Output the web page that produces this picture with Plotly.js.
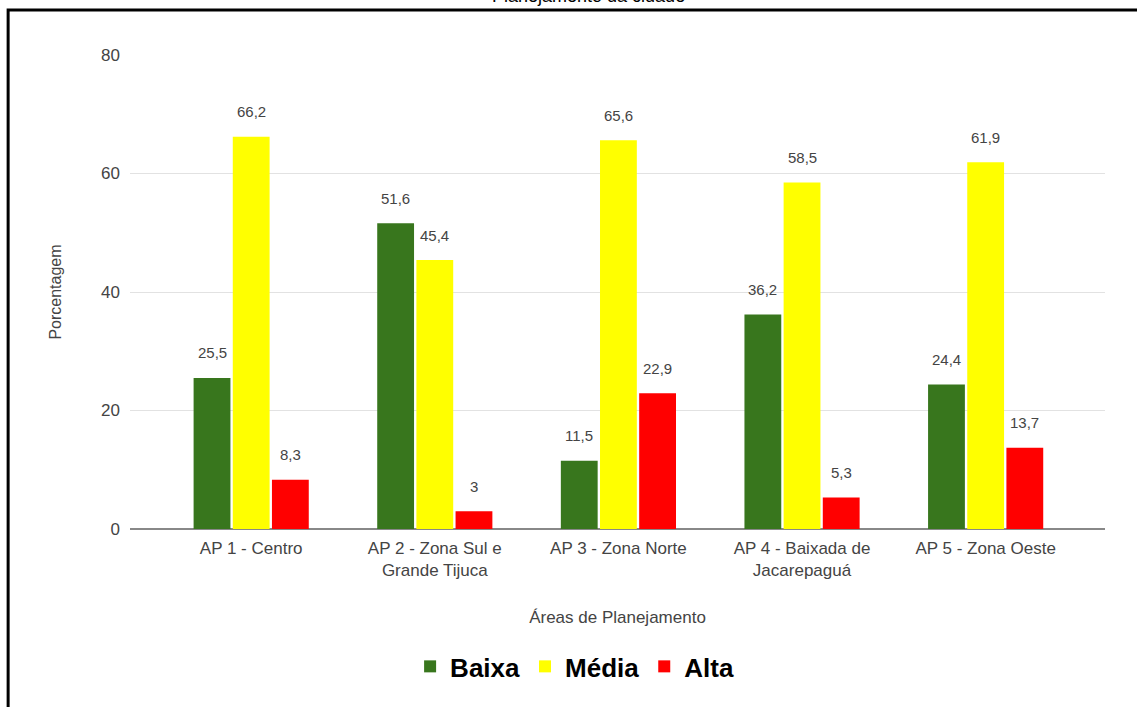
<!DOCTYPE html>
<html>
<head>
<meta charset="utf-8">
<script src="https://cdn.plot.ly/plotly-3.0.1.min.js"></script>
<style>
  html, body { margin: 0; padding: 0; background: #fff; }
  #chart { width: 1137px; height: 707px; }
</style>
</head>
<body>
<div id="chart"></div>
<script>
// Áreas de Planejamento do município e a distribuição por faixa (%)
const categories = [
  "AP 1 - Centro",
  "AP 2 - Zona Sul e<br>Grande Tijuca",
  "AP 3 - Zona Norte",
  "AP 4 - Baixada de<br>Jacarepaguá",
  "AP 5 - Zona Oeste"
];
const baixa = [25.5, 51.6, 11.5, 36.2, 24.4];
const media = [66.2, 45.4, 65.6, 58.5, 61.9];
const alta  = [8.3, 3, 22.9, 5.3, 13.7];
const yTicks = [0, 20, 40, 60, 80];

const seriesNames  = ["Baixa", "Média", "Alta"];
const seriesValues = [baixa, media, alta];
const seriesColors = ["#38761d", "#ffff00", "#ff0000"];

const FONT = "Liberation Sans, Arial, sans-serif";

const traces = seriesValues.map((vals, k) => ({
  type: "bar",
  name: seriesNames[k],
  x: categories,
  y: vals,
  marker: { color: seriesColors[k] },
  hoverinfo: "x+y+name"
}));

// value labels above each bar, offset to the bar's slot inside its group
const bargap = 0.36;
const slot = (1 - bargap) / 3;
const fmt = v => String(v).replace(".", ",");
const annotations = [];
seriesValues.forEach((vals, k) => {
  vals.forEach((v, i) => {
    annotations.push({
      x: i + (k - 1) * slot,
      y: v,
      xref: "x", yref: "y",
      text: fmt(v),
      showarrow: false,
      yanchor: "middle",
      yshift: 25,
      font: { family: FONT, size: 15, color: "#444" }
    });
  });
});

// heading partly outside the visible frame
annotations.push({
  xref: "paper", yref: "paper",
  x: 0.47, y: 1.112,
  xanchor: "center", yanchor: "bottom",
  yshift: -6,
  text: "Planejamento da cidade",
  showarrow: false,
  font: { family: FONT, size: 18, color: "#000" }
});

const layout = {
  width: 1137,
  height: 707,
  margin: { l: 130, r: 32, t: 55, b: 178 },
  paper_bgcolor: "#fff",
  plot_bgcolor: "#fff",
  separators: ",.",
  barmode: "group",
  bargap: bargap,
  bargroupgap: 0.06,
  font: { family: FONT, size: 16, color: "#444" },
  xaxis: {
    type: "category",
    range: [-0.66, 4.65],
    showgrid: false,
    zeroline: false,
    showline: false,
    ticks: "",
    ticklabelstandoff: 7,
    tickfont: { family: FONT, size: 17, color: "#444" },
    title: {
      text: "Áreas de Planejamento",
      font: { family: FONT, size: 17, color: "#444" },
      standoff: 32
    }
  },
  yaxis: {
    range: [0, 80],
    tickvals: yTicks,
    ticktext: yTicks.map(String),
    showgrid: true,
    gridcolor: "#e2e2e2",
    gridwidth: 1,
    zeroline: true,
    zerolinecolor: "#888",
    zerolinewidth: 1.5,
    ticks: "",
    ticklabelstandoff: 9,
    tickfont: { family: FONT, size: 17, color: "#444" },
    title: {
      text: "Porcentagem",
      font: { family: FONT, size: 16, color: "#444" },
      standoff: 35
    }
  },
  showlegend: true,
  legend: {
    orientation: "h",
    x: 0.456, xanchor: "center",
    y: -0.29, yanchor: "middle",
    font: { family: FONT, size: 26, color: "#000", weight: "bold" },
    itemwidth: 30,
    traceorder: "normal"
  },
  annotations: annotations,
  shapes: [{
    type: "rect",
    xref: "paper", yref: "paper",
    x0: -0.125, x1: 1.3,
    y0: -0.6, y1: 1.095,
    line: { color: "#000", width: 3 },
    fillcolor: "rgba(0,0,0,0)",
    layer: "above"
  }]
};

Plotly.newPlot("chart", traces, layout, { displayModeBar: false, staticPlot: true });
</script>
</body>
</html>
